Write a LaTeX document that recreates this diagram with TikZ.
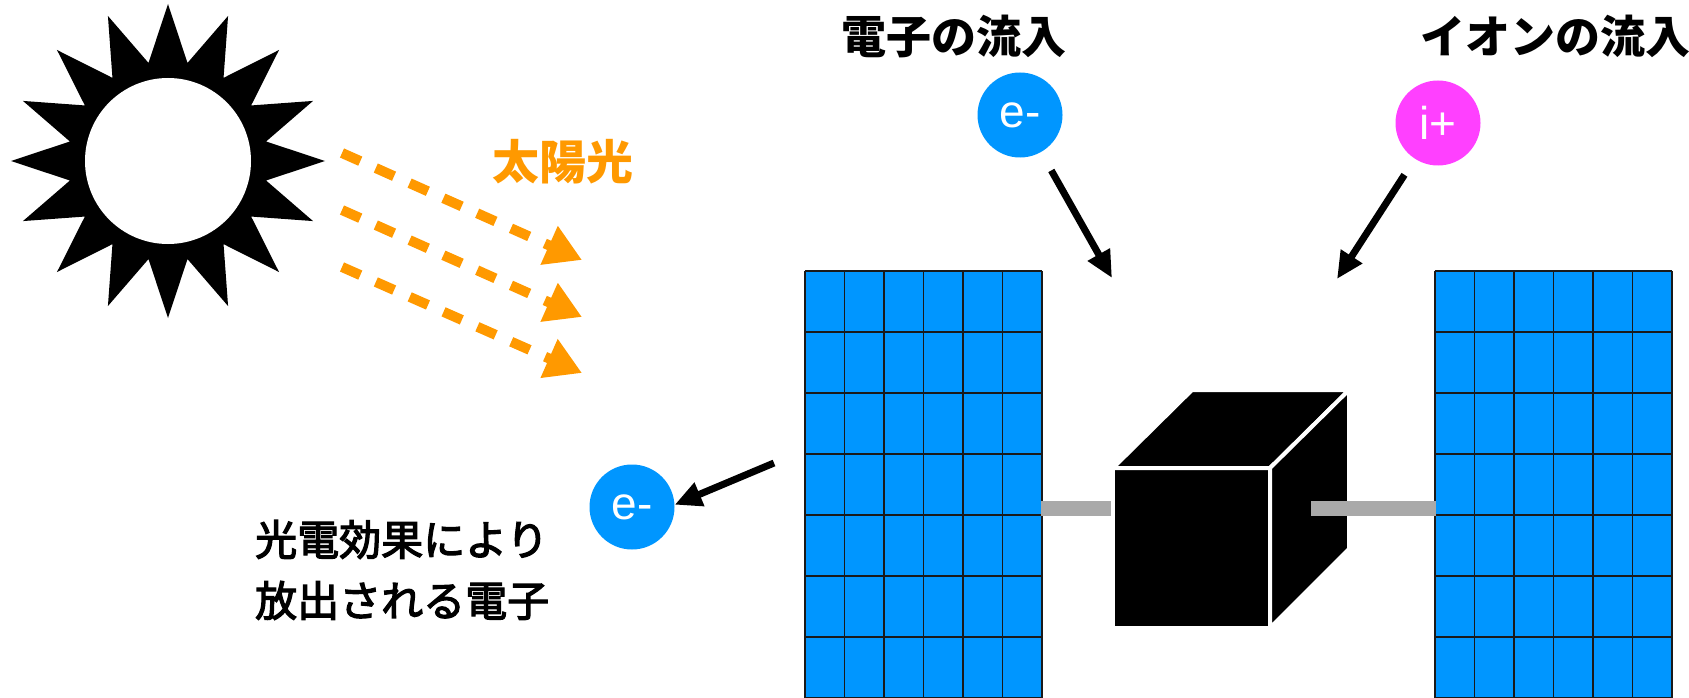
\documentclass[tikz,border=0pt]{standalone}
\usepackage{fontspec}
\usetikzlibrary{arrows.meta}
\newfontfamily\cjk{Noto Sans CJK JP}
\newfontfamily\cjkmed[FakeBold=3]{Noto Sans CJK JP}
\newfontfamily\lat{Liberation Sans}
\definecolor{panelblue}{HTML}{0096FF}
\definecolor{ionpink}{HTML}{FF40FF}
\definecolor{rayorange}{HTML}{FF9900}
\definecolor{bargray}{HTML}{A9A9A9}
\definecolor{gridline}{HTML}{1A1A1A}
\begin{document}
\begin{tikzpicture}[x=1pt,y=-1pt,
  particle/.style={circle,minimum size=85pt,inner sep=0pt,text=white,
    font=\lat\fontsize{46}{50}\selectfont},
  title/.style={font=\cjk\bfseries\fontsize{45}{54}\selectfont,inner sep=0pt},
  ray/.style={rayorange,line width=10pt,dash pattern=on 20pt off 17pt,
    -{Triangle[length=36pt,width=40pt]}},
  flow/.style={black,line width=7pt,-{Triangle[length=27pt,width=24pt]}},
  cubeface/.style={fill=black,draw=white,line width=4pt,line join=miter},
  cell/.style={draw=gridline,line width=1.5pt}]
\useasboundingbox (0,0) rectangle (1689,698);

% sun: 16-point star with a white disc
\begin{scope}[shift={(168,161)}]
  \fill[black] (90:157) \foreach \k in {1,...,31} {
      -- ({90+11.25*\k}:{isodd(\k)*100+(1-isodd(\k))*157}) } -- cycle;
  \fill[white] (0,0) circle (83);
\end{scope}

% sunlight rays
\coordinate (r1s) at (342,153); \coordinate (r1e) at (582,260);
\coordinate (r2s) at (342,210); \coordinate (r2e) at (582,317);
\coordinate (r3s) at (342,267); \coordinate (r3e) at (582,373);
\draw[ray] (r1s) -- (r1e);
\draw[ray] (r2s) -- (r2e);
\draw[ray] (r3s) -- (r3e);
\node[font=\cjk\bfseries\fontsize{47}{54}\selectfont,text=rayorange,inner sep=0pt]
  (sunlight) at (563,162) {太陽光};

% solar panels
\foreach \px/\name in {805/lp,1435/rp} {
  \fill[panelblue] (\px,271) rectangle ++(237,430);
  \foreach \c in {0,...,6}
    \draw[cell] ({\px+\c*39.5},271) -- ++(0,430);
  \foreach \r in {0,...,7}
    \draw[cell] (\px,{271+\r*61}) -- ++(237,0);
}

% satellite body
\fill[bargray] (1041,501) rectangle (1113,516);
\draw[cubeface] (1113,468) rectangle (1270,628);
\draw[cubeface] (1113,468) -- (1192,390) -- (1349,390) -- (1270,468) -- cycle;
\draw[cubeface] (1270,468) -- (1349,390) -- (1349,549) -- (1270,628) -- cycle;
\fill[bargray] (1311,501) rectangle (1436,516);

% incoming electron and ion
\node[title] (elabel) at (954,36) {電子の流入};
\node[title] (ilabel) at (1555,36) {イオンの流入};
\node[particle,fill=panelblue] (ein) at (1020,115) {e-};
\node[particle,fill=ionpink] (iin) at (1438,123) {i+};
\coordinate (etip) at (1112,278);
\coordinate (itip) at (1337,279);
\draw[flow,shorten <=21pt] (ein) -- (etip);
\draw[flow,shorten <=19pt] (iin) -- (itip);

% photoelectron
\node[particle,fill=panelblue] (eout) at (632,507) {e-};
\coordinate (eoutstart) at (774,463);
\draw[flow] (eoutstart) -- (eout.3);
\node[font=\cjkmed\fontsize{42}{61}\selectfont,align=left,anchor=west,inner sep=0pt]
  (photo) at (255,570) {光電効果により\\放出される電子};
\end{tikzpicture}
\end{document}
